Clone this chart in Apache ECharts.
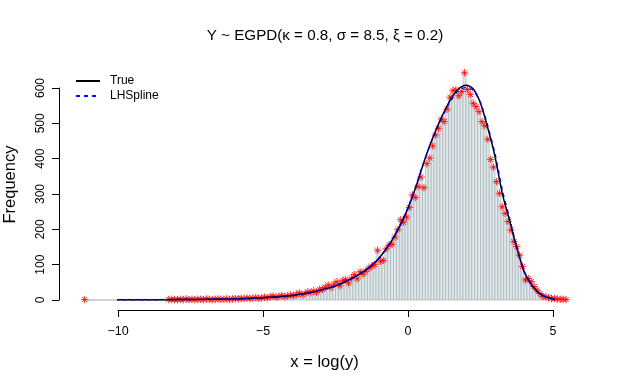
<!DOCTYPE html>
<html>
<head>
<meta charset="utf-8">
<script src="https://cdn.jsdelivr.net/npm/echarts@6/dist/echarts.min.js"></script>
<style>
  html, body { margin: 0; padding: 0; background: #fff; }
  #hist { width: 620px; height: 388px; }
</style>
</head>
<body>
<div id="hist"></div>
<script>
  // histogram bins (width 0.1, first bin starts at -11.2)
  var binStart = -11.2;
  var binWidth = 0.1;
  var counts = [
    1,
    0, 0, 0, 0, 0, 0, 0, 0, 0, 0, 0, 0, 0, 0, 0, 0, 0, 0, 0, 0, 0, 0, 0, 0, 0, 0, 0, 0,
    1, 2, 1, 1, 2, 1, 3, 1, 2, 1, 2, 2, 1, 3, 2, 1, 2, 3, 2, 2, 3, 2, 3,
    4, 3, 5, 4, 6, 4, 5, 7, 5, 6,
    8, 6, 9, 11, 8, 10, 13, 9, 12, 14,
    12, 16, 20, 15, 18, 24, 21, 26, 22, 30,
    30, 36, 42, 35, 45, 52, 40, 55, 58, 48,
    62, 72, 60, 80, 73, 82, 90, 96, 100, 141,
    110, 112, 145, 156, 158, 178, 200, 227, 220, 235,
    262, 297, 290, 321, 348, 318, 386, 402, 436, 467,
    486, 512, 505, 540, 574, 593, 595, 578, 590, 643,
    596, 582, 557, 547, 533, 505, 493, 455, 398, 376,
    335, 302, 264, 245, 222, 198, 165, 151, 127, 95,
    57, 61, 52, 38, 28, 18, 10, 9, 7, 4,
    4, 3, 2, 2, 1
  ];

  // density curves, scaled to frequency
  var curveX = [-11.2, -10, -9, -8, -7, -6, -5.5, -5, -4.5, -4, -3.5, -3, -2.5, -2, -1.5, -1.25, -1, -0.75, -0.5, -0.25,
    0, 0.25, 0.5, 0.75, 1, 1.25, 1.5, 1.75, 2, 2.25, 2.5, 2.75, 3, 3.25, 3.5, 3.75, 4, 4.25, 4.5, 4.75, 5, 5.25, 5.5];
  var trueY = [0.2, 0.4, 0.7, 1.1, 1.8, 3.2, 4.5, 6.5, 9, 13, 19, 28, 40, 58, 82, 98, 118, 145, 176, 214,
    260, 315, 378, 437, 488, 533, 572, 598, 608, 597, 557, 487, 406, 302, 226, 148, 82, 44, 21, 9, 3.5, 1.3, 0.5];
  var splineY = [0.3, 0.5, 0.8, 1.2, 2, 3.4, 4.7, 6.6, 9.2, 13, 19, 28, 41, 59, 83, 99, 119, 146, 178, 216,
    262, 317, 379, 436, 486, 530, 568, 594, 601, 593, 558, 492, 414, 312, 232, 150, 80, 42, 20, 8.5, 3.2, 1.2, 0.5];

  var xTicks = [-10, -5, 0, 5];
  var yTicks = [0, 100, 200, 300, 400, 500, 600];

  var binData = counts.map(function (c, i) {
    return [binStart + i * binWidth, binStart + (i + 1) * binWidth, c];
  });
  var pointData = [];
  counts.forEach(function (c, i) {
    if (c > 0) pointData.push([binStart + (i + 0.5) * binWidth, c]);
  });
  var trueData = curveX.map(function (x, i) { return [x, trueY[i]]; });
  var splineData = curveX.map(function (x, i) { return [x, splineY[i]]; });

  // R prints a real minus sign
  function minus(v) { return String(v).replace('-', '\u2212'); }

  var chart = echarts.init(document.getElementById('hist'));
  chart.setOption({
    animation: false,
    backgroundColor: '#ffffff',
    textStyle: { fontFamily: 'Liberation Sans, Arial, sans-serif' },
    title: {
      text: 'Y ~ EGPD(κ = 0.8, σ = 8.5, ξ = 0.2)',
      left: 320,
      top: 23,
      textAlign: 'center',
      textStyle: { fontSize: 15.2, fontWeight: 'normal', color: '#000' }
    },
    legend: {
      data: ['True', 'LHSpline'],
      orient: 'vertical',
      left: 70,
      top: 70,
      itemWidth: 24,
      itemHeight: 12,
      itemGap: 3,
      itemStyle: { color: 'rgba(0,0,0,0)', borderColor: 'rgba(0,0,0,0)', borderWidth: 0 },
      textStyle: { fontSize: 12, color: '#000', padding: [0, 0, 0, 5] }
    },
    grid: [
      // data grid: x from -10 to 5, y from 0 to 600 (R style detached axes)
      { left: 118, right: 67, top: 88, bottom: 88, outerBoundsMode: 'none' },
      // plot region, only used to center the axis titles
      { left: 59, right: 30, top: 59, bottom: 78, outerBoundsMode: 'none' }
    ],
    xAxis: [
      {
        type: 'value', gridIndex: 0,
        min: xTicks[0], max: xTicks[xTicks.length - 1], interval: 5,
        offset: 10,
        axisLine: { onZero: false, lineStyle: { color: '#000', width: 1 } },
        axisTick: { length: 7, lineStyle: { color: '#000' } },
        axisLabel: { color: '#000', fontSize: 12.5, margin: 15, formatter: minus },
        splitLine: { show: false }
      },
      {
        type: 'value', gridIndex: 1, min: 0, max: 1,
        name: 'x = log(y)', nameLocation: 'middle', nameGap: 44,
        nameTextStyle: { fontSize: 16.5, color: '#000' },
        axisLine: { show: false }, axisTick: { show: false },
        axisLabel: { show: false }, splitLine: { show: false }
      }
    ],
    yAxis: [
      {
        type: 'value', gridIndex: 0,
        min: yTicks[0], max: yTicks[yTicks.length - 1], interval: 100,
        offset: 59,
        axisLine: { show: true, onZero: false, lineStyle: { color: '#000', width: 1 } },
        axisTick: { show: true, length: 7, lineStyle: { color: '#000' } },
        axisLabel: { color: '#000', fontSize: 12, rotate: 90, align: 'center', verticalAlign: 'middle', margin: 18 },
        splitLine: { show: false }
      },
      {
        type: 'value', gridIndex: 1, min: 0, max: 1,
        name: 'Frequency', nameLocation: 'middle', nameGap: 40,
        nameTextStyle: { fontSize: 16.5, color: '#000' },
        axisLine: { show: false }, axisTick: { show: false },
        axisLabel: { show: false }, splitLine: { show: false }
      }
    ],
    series: [
      {
        name: 'hist',
        type: 'custom',
        xAxisIndex: 0, yAxisIndex: 0,
        clip: false,
        encode: { x: [0, 1], y: 2 },
        data: binData,
        renderItem: function (params, api) {
          var p0 = api.coord([api.value(0), api.value(2)]);
          var p1 = api.coord([api.value(1), 0]);
          return {
            type: 'rect',
            shape: { x: p0[0], y: p0[1], width: p1[0] - p0[0], height: p1[1] - p0[1] },
            style: { fill: '#dfe9ec', stroke: '#a9b1b5', lineWidth: 0.7 }
          };
        }
      },
      {
        name: 'counts',
        type: 'scatter',
        xAxisIndex: 0, yAxisIndex: 0,
        clip: false,
        symbol: 'path://M5,0L5,10M0,5L10,5M1.5,1.5L8.5,8.5M1.5,8.5L8.5,1.5',
        symbolSize: 7.5,
        itemStyle: { color: 'rgba(0,0,0,0)', borderColor: '#ff0000', borderWidth: 1 },
        data: pointData
      },
      {
        name: 'True',
        type: 'line',
        xAxisIndex: 0, yAxisIndex: 0,
        clip: false,
        smooth: 0.3,
        symbol: 'none',
        lineStyle: { color: '#000000', width: 1.5 },
        itemStyle: { color: '#000000' },
        data: trueData
      },
      {
        name: 'LHSpline',
        type: 'line',
        xAxisIndex: 0, yAxisIndex: 0,
        clip: false,
        smooth: 0.3,
        symbol: 'none',
        lineStyle: { color: '#0000ff', width: 1.4, type: [4, 4] },
        itemStyle: { color: '#0000ff' },
        data: splineData
      }
    ]
  });
</script>
</body>
</html>
